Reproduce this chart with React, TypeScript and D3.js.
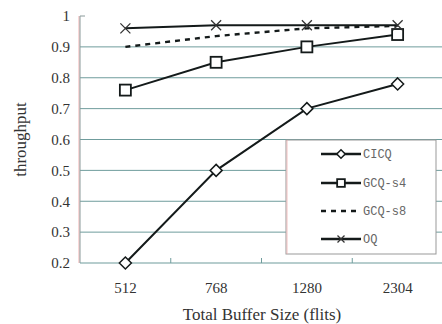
import * as d3 from "d3";

const categories = ["512", "768", "1280", "2304"];
const yTicks = [0.2, 0.3, 0.4, 0.5, 0.6, 0.7, 0.8, 0.9, 1];

const cicq = [0.2, 0.5, 0.7, 0.78];
const gcqS4 = [0.76, 0.85, 0.9, 0.94];
const gcqS8 = [0.9, 0.935, 0.96, 0.968];
const oq = [0.96, 0.97, 0.97, 0.97];

const seriesNames = ["CICQ", "GCQ-s4", "GCQ-s8", "OQ"];

type Marker = "diamond" | "square" | "none" | "cross";

const series: { name: string; values: number[]; marker: Marker; dashed: boolean }[] = [
  { name: seriesNames[0], values: cicq, marker: "diamond", dashed: false },
  { name: seriesNames[1], values: gcqS4, marker: "square", dashed: false },
  { name: seriesNames[2], values: gcqS8, marker: "none", dashed: true },
  { name: seriesNames[3], values: oq, marker: "cross", dashed: false },
];

const width = 442;
const height = 324;
const left = 80;
const right = 443;
const top = 16;
const bottom = 263;

const lineColor = "#141a1a";
const gridColor = "#6f9c9c";
const textColor = "#333";

function MarkerShape({ type, cx, cy, k = 1 }: { type: Marker; cx: number; cy: number; k?: number }) {
  if (type === "diamond") {
    const r = 6 * k;
    return (
      <path
        d={`M${cx},${cy - r}L${cx + r},${cy}L${cx},${cy + r}L${cx - r},${cy}Z`}
        fill="white"
        stroke={lineColor}
        strokeWidth={1.5}
      />
    );
  }
  if (type === "square") {
    const s = 11 * k;
    return (
      <rect
        x={cx - s / 2}
        y={cy - s / 2}
        width={s}
        height={s}
        fill="white"
        stroke={lineColor}
        strokeWidth={1.8}
      />
    );
  }
  if (type === "cross") {
    const r = 5 * k;
    return (
      <path
        d={`M${cx - r},${cy - r}L${cx + r},${cy + r}M${cx - r},${cy + r}L${cx + r},${cy - r}`}
        stroke="#333"
        strokeWidth={1.3}
        fill="none"
      />
    );
  }
  return null;
}

export default function App() {
  const x = d3.scaleBand().domain(categories).range([left, right]);
  const y = d3.scaleLinear().domain([0.2, 1]).range([bottom, top]);
  const cx = (c: string) => (x(c) ?? 0) + x.bandwidth() / 2;

  const line = d3
    .line<number>()
    .x((_, i) => cx(categories[i]))
    .y((d) => y(d));

  const legendRows = [154, 183, 211, 239];

  return (
    <svg
      width={width}
      height={height}
      style={{ position: "absolute", left: 0, top: 0, background: "white" }}
      fontFamily="'Liberation Serif', 'DejaVu Serif', serif"
    >
      {/* grid */}
      {yTicks.slice(1, -1).map((t) => (
        <line key={t} x1={left} x2={width} y1={y(t)} y2={y(t)} stroke={gridColor} strokeWidth={1} />
      ))}
      {/* axes */}
      <line x1={left - 1} x2={left - 1} y1={top} y2={bottom} stroke="#f0b0b0" strokeWidth={1} />
      <line x1={left} x2={left} y1={top} y2={bottom} stroke="#8a9a9a" strokeWidth={1} />
      <line x1={left} x2={left + 5} y1={top} y2={top} stroke="#8a9a9a" strokeWidth={1} />
      <line x1={left} x2={width} y1={bottom} y2={bottom} stroke={gridColor} strokeWidth={1.2} />
      {categories.slice(1).map((c) => (
        <line key={c} x1={x(c)} x2={x(c)} y1={bottom} y2={bottom - 5} stroke={gridColor} strokeWidth={1} />
      ))}
      {/* y tick labels */}
      {yTicks.map((t) => (
        <text key={t} x={70} y={y(t)} dy="0.35em" textAnchor="end" fontSize={15} fill={textColor}>
          {t === 1 ? "1" : t.toFixed(1)}
        </text>
      ))}
      {/* x tick labels */}
      {categories.map((c) => (
        <text key={c} x={cx(c)} y={293} textAnchor="middle" fontSize={15} fill={textColor}>
          {c}
        </text>
      ))}
      <text x={262} y={320} textAnchor="middle" fontSize={17} fill={textColor}>
        Total Buffer Size (flits)
      </text>
      <text
        transform={`translate(26,${(top + bottom) / 2}) rotate(-90)`}
        textAnchor="middle"
        fontSize={17}
        fill={textColor}
      >
        throughput
      </text>
      {/* series */}
      {series.map((s) => (
        <g key={s.name}>
          <path
            d={line(s.values) ?? undefined}
            fill="none"
            stroke={lineColor}
            strokeWidth={s.dashed ? 2.4 : 2}
            strokeDasharray={s.dashed ? "5,5" : undefined}
          />
          {s.values.map((v, i) => (
            <MarkerShape key={i} type={s.marker} cx={cx(categories[i])} cy={y(v)} />
          ))}
        </g>
      ))}
      {/* legend */}
      <rect x={286} y={140} width={150} height={114} fill="white" stroke="#999" strokeWidth={1} />
      <line x1={287} x2={287} y1={140} y2={254} stroke="#f0b0b0" strokeWidth={0.8} />
      {series.map((s, i) => (
        <g key={s.name}>
          <line
            x1={321}
            x2={361}
            y1={legendRows[i]}
            y2={legendRows[i]}
            stroke={lineColor}
            strokeWidth={s.dashed ? 2.6 : 2.4}
            strokeDasharray={s.dashed ? "5,5" : undefined}
          />
          <MarkerShape type={s.marker} cx={341} cy={legendRows[i]} k={0.7} />
          <text
            x={363}
            y={legendRows[i]}
            dy="0.35em"
            fontSize={12}
            fontFamily="'Liberation Mono', 'DejaVu Sans Mono', monospace"
            fill="#666"
          >
            {s.name}
          </text>
        </g>
      ))}
    </svg>
  );
}
